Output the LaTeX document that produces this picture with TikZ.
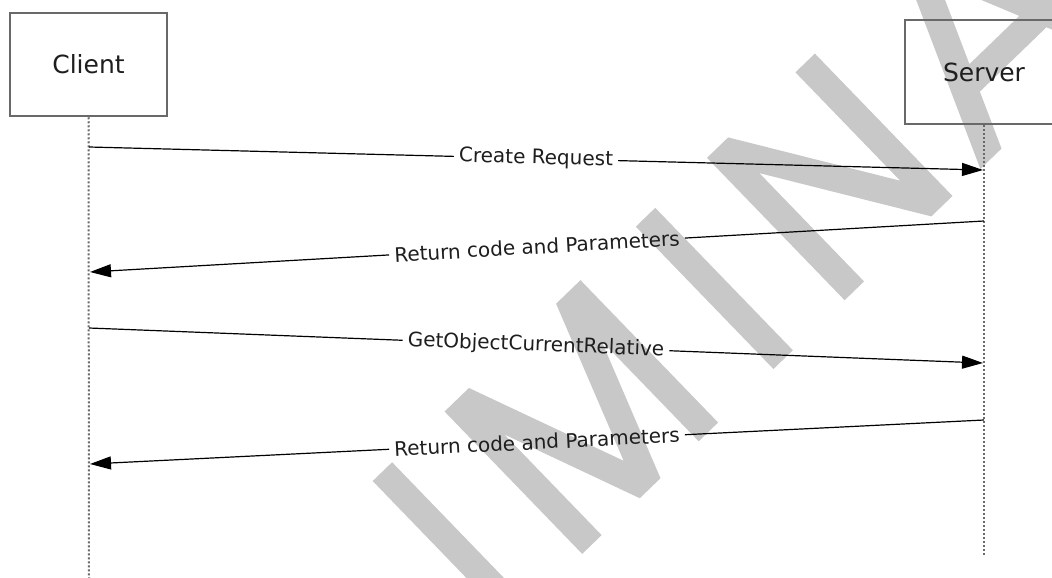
\documentclass[tikz,border=0pt]{standalone}
\usepackage{fontspec}
\setmainfont{DejaVu Sans}
\usetikzlibrary{arrows.meta}
\definecolor{wmgray}{RGB}{200,200,200}
\definecolor{boxgray}{RGB}{105,105,105}
\definecolor{lifegray}{RGB}{105,105,105}
\definecolor{txt}{RGB}{30,30,30}
\begin{document}
\begin{tikzpicture}[x=1pt,y=-1pt,
  actor/.style={draw=boxgray, line width=2.5pt, minimum width=157pt, minimum height=103pt,
    inner sep=0pt, font=\fontsize{25}{30}\selectfont, text=txt},
  lifeline/.style={draw=lifegray, line width=2pt, dash pattern=on 2pt off 2pt},
  msg/.style={draw=black, line width=1.2pt},
  msgarrow/.style={msg, -{Triangle[length=21pt,width=13pt]}},
  lbl/.style={font=\fontsize{20}{24}\selectfont, text=txt, inner xsep=5pt, inner ysep=2pt},
  wm/.style={fill=wmgray, draw=none}]
\clip (0,0) rectangle (1052,578);
\fill[white] (0,0) rectangle (1052,578);

% watermark (part of the word PRELIMINARY)
\begin{scope}[shift={(520,614)}, x={(0.719pt,0.695pt)}, y={(-0.695pt,0.719pt)}]
  \path[wm] (-13.5,0) -- (-13.5,198) -- (13.5,198) -- (13.5,0) -- cycle;
  \path[wm] (86.5,0) -- (86.5,198) -- (120.4,198) -- (181,38.1) -- (241.6,198) -- (275.5,198)
     -- (275.5,0) -- (248.5,0) -- (248.5,140.1) -- (195.4,0) -- (166.6,0) -- (113.5,140.1)
     -- (113.5,0) -- cycle;
  \path[wm] (352.5,0) -- (352.5,198) -- (379.5,198) -- (379.5,0) -- cycle;
  \path[wm] (451.5,0) -- (451.5,198) -- (480.9,198) -- (574.5,47.3) -- (574.5,198)
     -- (601.5,198) -- (601.5,0) -- (572.1,0) -- (478.5,150.7) -- (478.5,0) -- cycle;
  \path[wm, even odd rule] (640.3,0) -- (725.3,198) -- (754.7,198) -- (839.7,0) -- (810.3,0)
     -- (786.3,56) -- (693.7,56) -- (669.7,0) -- cycle
     (705.3,83) -- (774.7,83) -- (740,163.8) -- cycle;
\end{scope}

% actors
\node[actor] (client) at (88.5,64.5) {Client};
\node[actor, minimum width=158pt, minimum height=104pt] (server) at (984,72) {Server};

% lifelines
\coordinate (cend) at (89,578);
\coordinate (send) at (984,556);
\draw[lifeline] (client.south) -- (cend);
\draw[lifeline] (server.south) -- (send);

% message end points
\coordinate (c1) at (89,147);  \coordinate (s1) at (983,170);
\coordinate (s2) at (984,221); \coordinate (c2) at (90,272);
\coordinate (c3) at (89,328);  \coordinate (s3) at (983,363);
\coordinate (s4) at (984,420); \coordinate (c4) at (90,464);

% labels
\path (c1) -- (s1) node[lbl, sloped, midway] (l1) {Create Request};
\path (s2) -- (c2) node[lbl, sloped, midway] (l2) {Return code and Parameters};
\path (c3) -- (s3) node[lbl, sloped, midway] (l3) {GetObjectCurrentRelative};
\path (s4) -- (c4) node[lbl, sloped, midway] (l4) {Return code and Parameters};

% messages
\draw[msg] (c1) -- (l1.west);
\draw[msgarrow] (l1.east) -- (s1);
\draw[msg] (s2) -- (l2.east);
\draw[msgarrow] (l2.west) -- (c2);
\draw[msg] (c3) -- (l3.west);
\draw[msgarrow] (l3.east) -- (s3);
\draw[msg] (s4) -- (l4.east);
\draw[msgarrow] (l4.west) -- (c4);
\end{tikzpicture}
\end{document}
